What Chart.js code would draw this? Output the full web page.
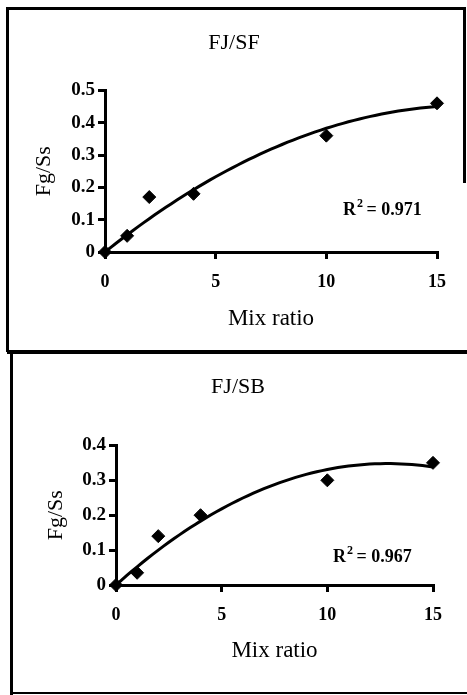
<!DOCTYPE html>
<html>
<head>
<meta charset="utf-8">
<script src="https://cdn.jsdelivr.net/npm/chart.js@4/dist/chart.umd.min.js"></script>
<style>
  body { margin: 0; background: #fff; width: 467px; height: 695px; position: relative; overflow: hidden; }
  canvas { position: absolute; left: 0; }
  .ln { position: absolute; background: #000; }
</style>
</head>
<body>
<canvas id="chartSF" width="467" height="345" style="top:0"></canvas>
<canvas id="chartSB" width="467" height="345" style="top:350px"></canvas>
<div class="ln" style="left:6px;top:7px;width:460px;height:3px"></div>
<div class="ln" style="left:6px;top:7px;width:3px;height:345px"></div>
<div class="ln" style="left:463px;top:7px;width:3px;height:176px"></div>
<div class="ln" style="left:7px;top:350px;width:460px;height:4px"></div>
<div class="ln" style="left:10px;top:350px;width:3px;height:345px"></div>
<div class="ln" style="left:10px;top:692px;width:457px;height:2px"></div>
<script>
  // mix ratios (x) shared by both panels
  const mixRatio = [0, 1, 2, 4, 10, 15];
  const fgSsSF = [0, 0.05, 0.17, 0.18, 0.36, 0.46];
  const fgSsSB = [0, 0.035, 0.14, 0.2, 0.3, 0.35];
  const xTicks = [0, 5, 10, 15];
  const ySFTicks = [0, 0.1, 0.2, 0.3, 0.4, 0.5];
  const ySBTicks = [0, 0.1, 0.2, 0.3, 0.4];

  // 2nd order polynomial trendline through the origin (least squares)
  function polyFit(xs, ys) {
    let s2 = 0, s3 = 0, s4 = 0, t1 = 0, t2 = 0;
    xs.forEach((x, i) => {
      s2 += x * x; s3 += x * x * x; s4 += x * x * x * x;
      t1 += x * ys[i]; t2 += x * x * ys[i];
    });
    const det = s2 * s4 - s3 * s3;
    return [(t1 * s4 - s3 * t2) / det, (s2 * t2 - s3 * t1) / det];
  }

  function trendPoints(xs, ys) {
    const c = polyFit(xs, ys);
    const pts = [];
    for (let i = 0; i <= 60; i++) {
      const x = 15 * i / 60;
      pts.push({ x: x, y: c[0] * x + c[1] * x * x });
    }
    return pts;
  }

  const serif = "'Liberation Serif', 'DejaVu Serif', serif";

  const r2Label = {
    id: "r2Label",
    afterDraw(chart, args, opts) {
      const ctx = chart.ctx;
      const px = chart.scales.x.getPixelForValue(opts.x);
      const py = chart.scales.y.getPixelForValue(opts.y);
      ctx.save();
      ctx.fillStyle = "#000";
      ctx.textBaseline = "alphabetic";
      ctx.font = "bold 18px " + serif;
      ctx.fillText("R", px, py);
      const w = ctx.measureText("R").width;
      ctx.font = "bold 12px " + serif;
      ctx.fillText("2", px + w + 1, py - 8);
      ctx.font = "bold 18px " + serif;
      ctx.fillText(" = " + opts.text, px + w + 6, py);
      ctx.restore();
    }
  };

  function makeChart(id, title, ys, yTicks, yMax, cfg) {
    const ctx = document.getElementById(id).getContext("2d");
    return new Chart(ctx, {
      type: "scatter",
      data: {
        datasets: [{
          data: mixRatio.map((x, i) => ({ x: x, y: ys[i] })),
          backgroundColor: "#000",
          borderColor: "#000",
          pointStyle: "rectRot",
          pointRadius: 6.5,
          clip: false,
          order: 1
        }, {
          type: "line",
          data: trendPoints(mixRatio, ys),
          borderColor: "#000",
          borderWidth: 3,
          pointRadius: 0,
          tension: 0,
          fill: false,
          clip: false,
          order: 2
        }]
      },
      options: {
        responsive: false,
        animation: false,
        events: [],
        layout: { padding: cfg.padding },
        plugins: {
          legend: { display: false },
          tooltip: { enabled: false },
          title: {
            display: true,
            text: title,
            color: "#000",
            font: { family: serif, size: 22, weight: "normal" },
            padding: { top: cfg.titleTop, bottom: cfg.titleBottom }
          },
          r2Label: cfg.r2
        },
        scales: {
          x: {
            type: "linear",
            min: 0,
            max: 15,
            afterBuildTicks: s => { s.ticks = xTicks.map(v => ({ value: v })); },
            afterFit: s => { s.height = cfg.xHeight; },
            ticks: { color: "#000", font: { family: serif, size: 18, weight: "bold" }, padding: 13 },
            grid: { drawOnChartArea: false, color: "#000", lineWidth: 3, tickLength: 7 },
            border: { color: "#000", width: 3 },
            title: { display: true, text: "Mix ratio", color: "#000", font: { family: serif, size: 23 }, padding: { top: 10, bottom: 0 } }
          },
          y: {
            min: 0,
            max: yMax,
            afterBuildTicks: s => { s.ticks = yTicks.map(v => ({ value: v })); },
            afterFit: s => { s.width = cfg.yWidth; },
            ticks: { color: "#000", font: { family: serif, size: 19, weight: "bold" }, padding: 3 },
            grid: { drawOnChartArea: false, color: "#000", lineWidth: 3, tickLength: 7 },
            border: { color: "#000", width: 3 },
            title: { display: true, text: "Fg/Ss", color: "#000", font: { family: serif, size: 22 }, padding: { top: 0, bottom: 0 } }
          }
        }
      },
      plugins: [r2Label]
    });
  }

  makeChart("chartSF", "FJ/SF", fgSsSF, ySFTicks, 0.5, {
    padding: { left: 31, right: 30, top: 20, bottom: 12 },
    titleTop: 10, titleBottom: 34,
    xHeight: 81, yWidth: 74,
    r2: { x: 10.75, y: 0.114, text: "0.971" }
  });

  makeChart("chartSB", "FJ/SB", fgSsSB, ySBTicks, 0.4, {
    padding: { left: 43, right: 34, top: 15, bottom: 30 },
    titleTop: 9, titleBottom: 45,
    xHeight: 80, yWidth: 73,
    r2: { x: 10.27, y: 0.066, text: "0.967" }
  });
</script>
</body>
</html>
